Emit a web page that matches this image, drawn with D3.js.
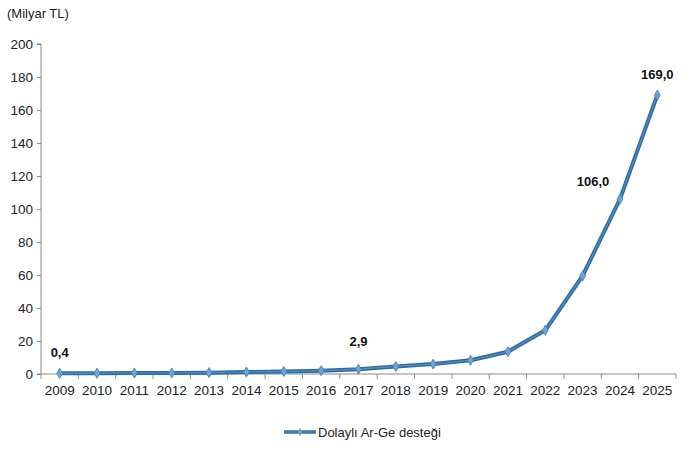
<!DOCTYPE html>
<html><head><meta charset="utf-8">
<script src="https://cdn.jsdelivr.net/npm/d3@7"></script>
<style>body{margin:0;background:#fff}text{font-family:"Liberation Sans",Arial,sans-serif}</style>
</head><body>
<svg id="c" width="685" height="450"></svg>
<script>
const years = ["2009","2010","2011","2012","2013","2014","2015","2016","2017","2018","2019","2020","2021","2022","2023","2024","2025"];
const values = [0.4,0.5,0.6,0.6,0.8,1.2,1.5,2.0,2.9,4.6,6.0,8.3,13.5,26.5,59.5,106.0,169.0];
const yTicks = [0,20,40,60,80,100,120,140,160,180,200];
const labelled = {"2009":"0,4","2017":"2,9","2024":"106,0","2025":"169,0"};
const seriesName = "Dolaylı Ar-Ge desteği";

const svg = d3.select("#c");
const m = {l:41, r:10, t:44, b:76};
const x = d3.scaleBand().domain(years).range([m.l, 676]);
const y = d3.scaleLinear().domain([0,200]).range([374, 44]);

svg.append("text").attr("x",7).attr("y",18).attr("font-size",13).attr("fill","#222").text("(Milyar TL)");

const ya = svg.append("g").attr("transform",`translate(${m.l},0)`)
  .call(d3.axisLeft(y).tickValues(yTicks).tickSize(4).tickPadding(4));
ya.select(".domain").attr("stroke","#8a8a8a").attr("d",`M-4,${y(200)}H0V${y(0)}H-4`);
ya.selectAll(".tick line").attr("stroke","#8a8a8a");
ya.selectAll("text").attr("font-size",13.5).attr("fill","#222").attr("font-family","Liberation Sans, Arial, sans-serif");

const xa = svg.append("g").attr("transform",`translate(0,${y(0)})`);
xa.append("line").attr("x1",m.l).attr("x2",676).attr("stroke","#8a8a8a");
const bounds = years.map(d=>x(d)).concat([x.range()[1]]);
xa.selectAll("line.t").data(bounds).join("line").attr("class","t")
  .attr("x1",d=>d).attr("x2",d=>d).attr("y1",0).attr("y2",5).attr("stroke","#8a8a8a");
xa.selectAll("text").data(years).join("text")
  .attr("x",d=>x(d)+x.bandwidth()/2).attr("y",21).attr("text-anchor","middle")
  .attr("font-size",13.5).attr("fill","#222").text(d=>d);

const cx = d=>x(d)+x.bandwidth()/2;
const line = d3.line().x((d,i)=>cx(years[i])).y(d=>y(d));
svg.append("path").datum(values).attr("d",line).attr("fill","none").attr("stroke","#2f6a9e").attr("stroke-width",4).attr("stroke-linejoin","round");
svg.append("path").datum(values).attr("d",line).attr("fill","none").attr("stroke","#4f8fc8").attr("stroke-width",1.2);

const diamond = d3.symbol().type(d3.symbolDiamond).size(30);
svg.selectAll("path.mk").data(values).join("path").attr("class","mk")
  .attr("d",diamond).attr("transform",(d,i)=>`translate(${cx(years[i])},${y(d)})`)
  .attr("fill","#6ea3d6").attr("stroke","#3f7fb8").attr("stroke-width",0.8);

const offs = {"2009":[0,-16],"2017":[0,-23],"2024":[-27,-13],"2025":[0,-16]};
svg.selectAll("text.lb").data(years.filter(d=>labelled[d])).join("text").attr("class","lb")
  .attr("x",d=>cx(d)+offs[d][0]).attr("y",d=>y(values[years.indexOf(d)])+offs[d][1])
  .attr("text-anchor","middle").attr("font-size",13).attr("font-weight","bold").attr("fill","#111")
  .text(d=>labelled[d]);

const lg = svg.append("g").attr("transform","translate(284,432)");
lg.append("line").attr("x1",0).attr("x2",32).attr("stroke","#2f6a9e").attr("stroke-width",3.5);
lg.append("line").attr("x1",0).attr("x2",32).attr("stroke","#4f8fc8").attr("stroke-width",1);
lg.append("path").attr("d",d3.symbol().type(d3.symbolDiamond).size(20)).attr("transform","translate(16,0)").attr("fill","#6ea3d6");
lg.append("text").attr("x",34).attr("y",4.5).attr("font-size",13).attr("fill","#222").text(seriesName);
</script>
</body></html>
